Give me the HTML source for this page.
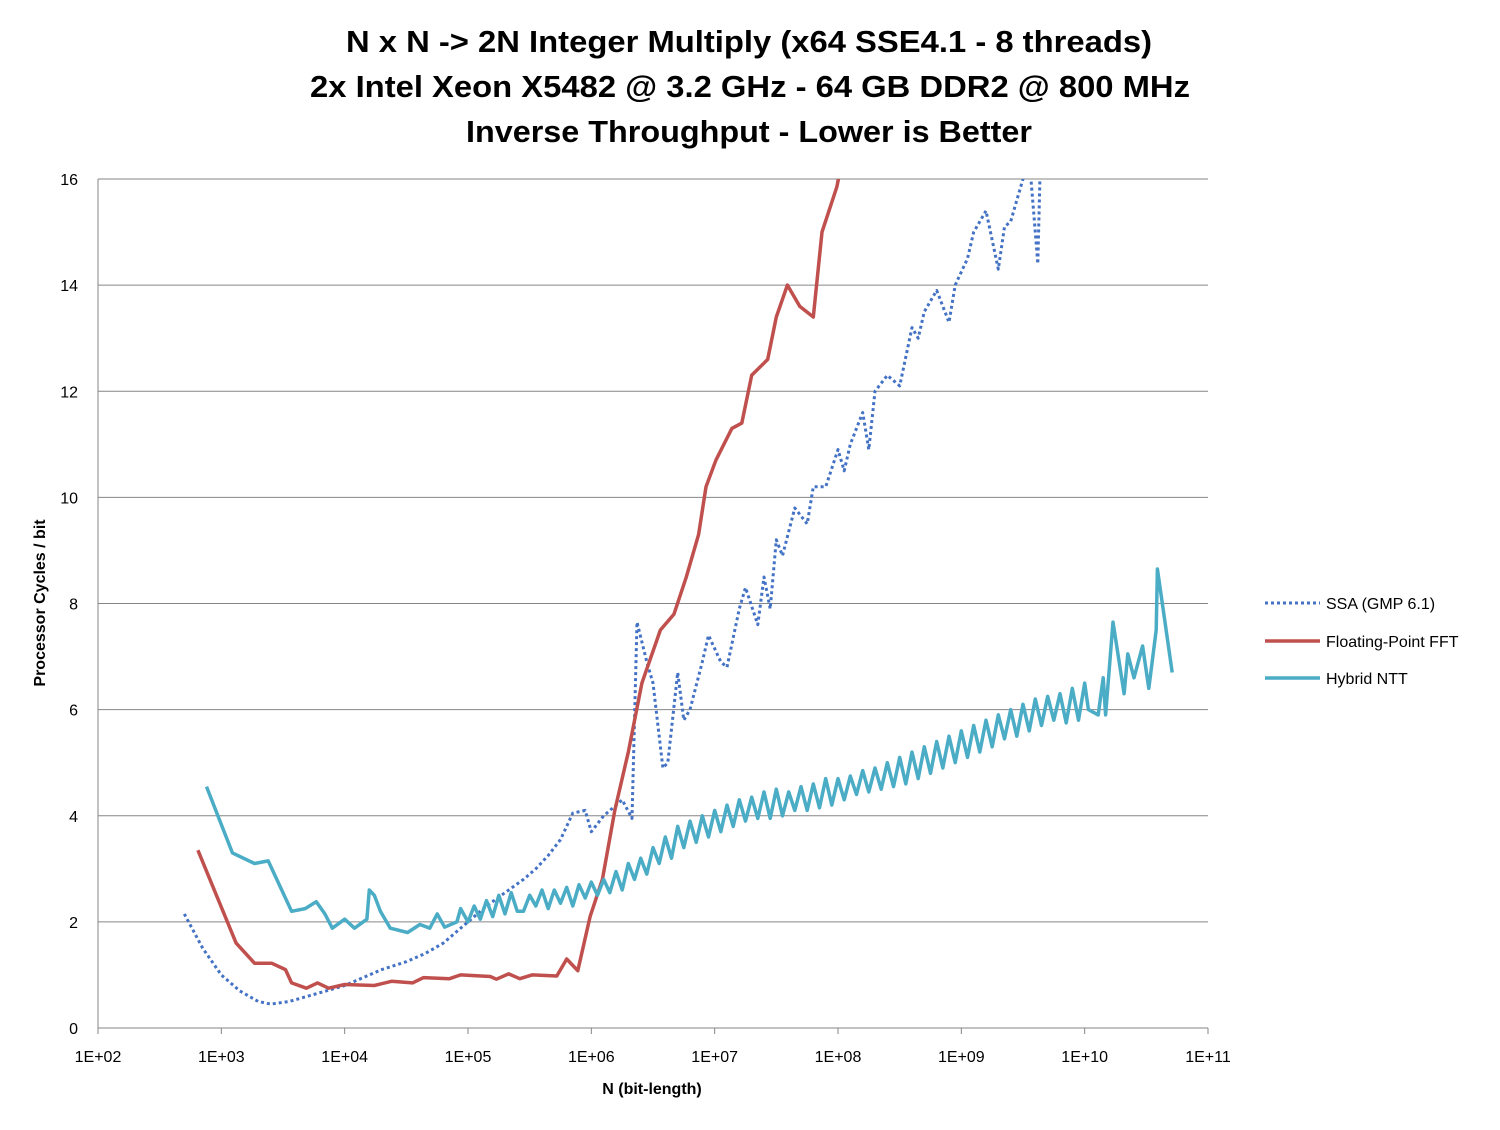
<!DOCTYPE html>
<html><head><meta charset="utf-8"><style>
body{margin:0;background:#fff;}
svg text{font-family:"Liberation Sans",sans-serif;}
</style></head><body>
<svg id="chart" width="1500" height="1125" viewBox="0 0 1500 1125">
<g font-weight="bold" font-size="31" text-anchor="middle" fill="#000">
<text x="749" y="52" textLength="806" lengthAdjust="spacingAndGlyphs">N x N -&gt; 2N Integer Multiply (x64 SSE4.1 - 8 threads)</text>
<text x="750" y="97" textLength="880" lengthAdjust="spacingAndGlyphs">2x Intel Xeon X5482 @ 3.2 GHz - 64 GB DDR2 @ 800 MHz</text>
<text x="749" y="142" textLength="566" lengthAdjust="spacingAndGlyphs">Inverse Throughput - Lower is Better</text>
</g>
<g id="grid"></g>
<g id="axes"></g>
<defs><clipPath id="clip"><rect x="98" y="179" width="1110" height="849"/></clipPath></defs>
<g id="series" clip-path="url(#clip)"></g>
<text x="45" y="603" transform="rotate(-90 45 603)" text-anchor="middle" font-size="16" font-weight="bold">Processor Cycles / bit</text>
<text x="652" y="1094" text-anchor="middle" font-size="16" font-weight="bold">N (bit-length)</text>
<g font-size="16">
<g><line x1="1265" y1="603" x2="1320" y2="603" stroke="#4472C4" stroke-width="3" stroke-dasharray="3,3"/><text x="1326" y="609">SSA (GMP 6.1)</text></g>
<g><line x1="1265" y1="641" x2="1320" y2="641" stroke="#C0504D" stroke-width="3.5"/><text x="1326" y="647">Floating-Point FFT</text></g>
<g><line x1="1265" y1="678" x2="1320" y2="678" stroke="#4BACC6" stroke-width="3.5"/><text x="1326" y="684">Hybrid NTT</text></g>
</g>
</svg>
<script>
const yTicks=[0,2,4,6,8,10,12,14,16];
const xTickLabels=["1E+02","1E+03","1E+04","1E+05","1E+06","1E+07","1E+08","1E+09","1E+10","1E+11"];
const ssaLogN=[2.7,2.85,3.0,3.15,3.3,3.4,3.55,3.7,3.85,4.0,4.15,4.3,4.5,4.65,4.8,5.0,5.15,5.3,5.45,5.55,5.65,5.75,5.85,5.95,6.0,6.1,6.25,6.33,6.37,6.45,6.5,6.58,6.62,6.7,6.75,6.8,6.9,6.95,7.05,7.1,7.2,7.25,7.35,7.4,7.45,7.5,7.55,7.65,7.75,7.8,7.9,8.0,8.05,8.1,8.2,8.25,8.3,8.4,8.5,8.6,8.65,8.7,8.8,8.9,8.95,9.05,9.1,9.2,9.3,9.35,9.4,9.45,9.5,9.55,9.6,9.62,9.64];
const ssaVals=[2.15,1.5,1.0,0.7,0.5,0.45,0.5,0.6,0.7,0.8,0.95,1.1,1.25,1.4,1.6,2.0,2.3,2.55,2.8,3.0,3.25,3.55,4.05,4.1,3.7,4.0,4.3,3.95,7.65,6.9,6.5,4.9,5.0,6.7,5.8,6.0,6.9,7.4,6.9,6.8,7.9,8.3,7.6,8.5,7.9,9.2,8.9,9.8,9.5,10.2,10.2,10.9,10.5,11.0,11.6,10.9,12.0,12.3,12.1,13.2,13.0,13.5,13.9,13.3,14.0,14.5,15.0,15.4,14.3,15.1,15.2,15.6,16.0,16.4,15.0,14.4,16.3];
const fftLogN=[2.81,3.12,3.27,3.41,3.52,3.57,3.69,3.78,3.87,4.0,4.24,4.38,4.55,4.64,4.85,4.94,5.18,5.23,5.33,5.42,5.52,5.72,5.8,5.89,5.99,6.09,6.19,6.3,6.41,6.56,6.67,6.77,6.87,6.93,7.01,7.14,7.22,7.3,7.43,7.5,7.59,7.69,7.8,7.87,7.99,8.03];
const fftVals=[3.35,1.6,1.22,1.22,1.1,0.85,0.75,0.85,0.75,0.82,0.8,0.88,0.85,0.95,0.93,1.0,0.97,0.92,1.02,0.93,1.0,0.98,1.3,1.08,2.1,2.8,4.1,5.2,6.5,7.5,7.8,8.5,9.3,10.2,10.7,11.3,11.4,12.3,12.6,13.4,14.0,13.6,13.4,15.0,15.85,16.3];
const nttLogN=[2.88,3.09,3.27,3.38,3.57,3.68,3.77,3.84,3.9,4.0,4.08,4.18,4.2,4.24,4.29,4.37,4.51,4.61,4.69,4.75,4.81,4.91,4.94,5.0,5.05,5.1,5.15,5.2,5.25,5.3,5.35,5.4,5.45,5.5,5.55,5.6,5.65,5.7,5.75,5.8,5.85,5.9,5.95,6.0,6.05,6.1,6.15,6.2,6.25,6.3,6.35,6.4,6.45,6.5,6.55,6.6,6.65,6.7,6.75,6.8,6.85,6.9,6.95,7.0,7.05,7.1,7.15,7.2,7.25,7.3,7.35,7.4,7.45,7.5,7.55,7.6,7.65,7.7,7.75,7.8,7.85,7.9,7.95,8.0,8.05,8.1,8.15,8.2,8.25,8.3,8.35,8.4,8.45,8.5,8.55,8.6,8.65,8.7,8.75,8.8,8.85,8.9,8.95,9.0,9.05,9.1,9.15,9.2,9.25,9.3,9.35,9.4,9.45,9.5,9.55,9.6,9.65,9.7,9.75,9.8,9.85,9.9,9.95,10.0,10.03,10.11,10.15,10.17,10.23,10.32,10.35,10.4,10.47,10.52,10.58,10.59,10.71];
const nttVals=[4.55,3.3,3.1,3.15,2.2,2.25,2.38,2.15,1.88,2.05,1.88,2.05,2.6,2.5,2.2,1.88,1.8,1.95,1.88,2.15,1.9,2.0,2.25,2.0,2.3,2.05,2.4,2.1,2.5,2.15,2.55,2.2,2.2,2.5,2.3,2.6,2.25,2.6,2.35,2.65,2.3,2.7,2.45,2.75,2.5,2.8,2.55,2.95,2.6,3.1,2.8,3.2,2.9,3.4,3.1,3.6,3.2,3.8,3.4,3.9,3.5,4.0,3.6,4.1,3.7,4.2,3.8,4.3,3.9,4.35,3.95,4.45,3.95,4.5,4.0,4.45,4.1,4.55,4.1,4.6,4.15,4.7,4.2,4.7,4.3,4.75,4.4,4.85,4.45,4.9,4.5,5.0,4.55,5.1,4.6,5.2,4.7,5.3,4.8,5.4,4.9,5.5,5.0,5.6,5.1,5.7,5.2,5.8,5.3,5.9,5.45,6.0,5.5,6.1,5.6,6.2,5.7,6.25,5.8,6.3,5.75,6.4,5.8,6.5,6.0,5.9,6.6,5.9,7.65,6.3,7.05,6.6,7.2,6.4,7.5,8.65,6.7];
const X0=98,X1=1208,Y0=1028,Y1=179;
function xs(l){return X0+(l-2)/9*(X1-X0);}
function ys(v){return Y0-v/16*(Y0-Y1);}
const NS="http://www.w3.org/2000/svg";
const grid=document.getElementById('grid'),axes=document.getElementById('axes'),series=document.getElementById('series');
function mk(tag,attrs,parent){const e=document.createElementNS(NS,tag);for(const k in attrs)e.setAttribute(k,attrs[k]);parent.appendChild(e);return e;}
yTicks.forEach(v=>{
  if(v>0){const g=mk('line',{x1:X0,x2:X1,y1:ys(v),y2:ys(v),stroke:'#868686','stroke-width':1},grid);
  
  }
  const t=mk('text',{x:78,y:ys(v)+6,'text-anchor':'end','font-size':16},axes);t.textContent=v;
  
  
});
const ax=mk('line',{x1:X0,x2:X0,y1:Y1,y2:Y0,stroke:'#868686'},axes);


const bx=mk('line',{x1:X0,x2:X1,y1:Y0,y2:Y0,stroke:'#868686'},axes);


xTickLabels.forEach((s,i)=>{
  const x=xs(2+i);
  const tk=mk('line',{x1:x,x2:x,y1:Y0,y2:Y0+6,stroke:'#868686'},axes);
  
  
  const t=mk('text',{x:x,y:1062,'text-anchor':'middle','font-size':16},axes);t.textContent=s;
  
  
});
function line(lx,vals,color,extra,name){
  const d=lx.map((l,i)=>(i?'L':'M')+xs(l).toFixed(1)+','+ys(vals[i]).toFixed(1)).join(' ');
  const p=mk('path',Object.assign({d:d,fill:'none',stroke:color,'stroke-linejoin':'round'},extra),series);
  
  
}
line(ssaLogN,ssaVals,'#4472C4',{'stroke-width':3,'stroke-dasharray':'3,3'},'ssa-line');
line(fftLogN,fftVals,'#C0504D',{'stroke-width':3.5},'fft-line');
line(nttLogN,nttVals,'#4BACC6',{'stroke-width':3.5},'ntt-line');
</script>
</body></html>
